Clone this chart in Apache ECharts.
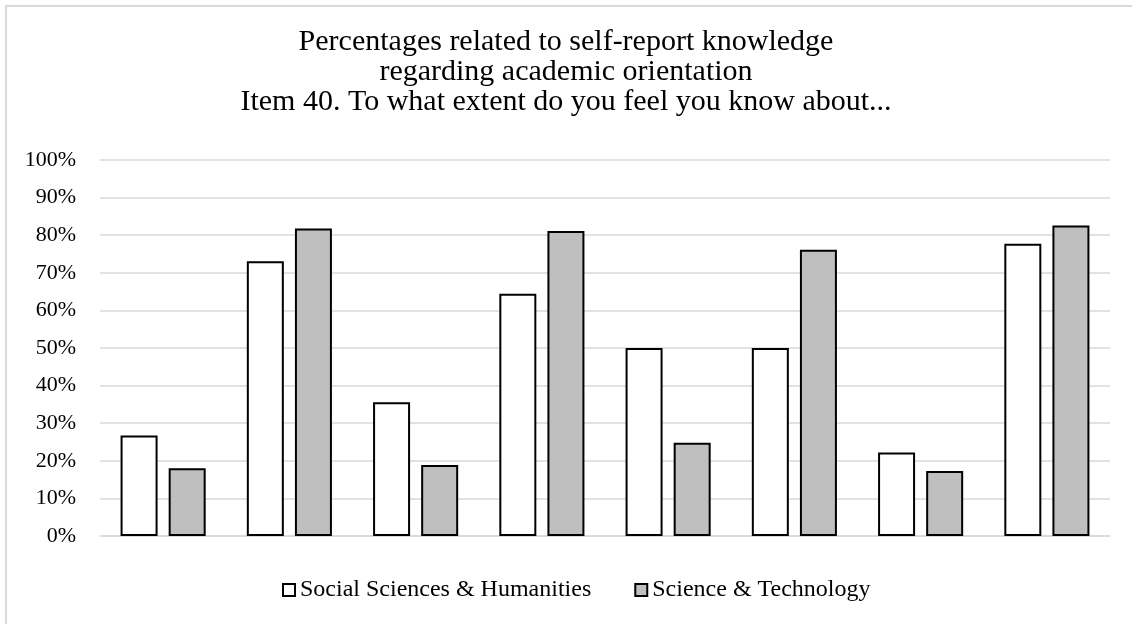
<!DOCTYPE html>
<html>
<head>
<meta charset="utf-8">
<script src="https://cdn.jsdelivr.net/npm/echarts@6/dist/echarts.min.js"></script>
<style>
  html, body { margin: 0; padding: 0; background: #fff; overflow: hidden; }
  #frame { position: absolute; left: 5px; top: 5px; width: 1200px; height: 700px;
           border: 2px solid #d9d9d9; box-sizing: border-box; }
  #chart { position: absolute; left: 0; top: 0; width: 1132px; height: 624px; }
</style>
</head>
<body>
<div id="frame"></div>
<div id="chart"></div>
<script>
// Item 40 sub-questions (no axis labels are shown)
const categories = ['1', '2', '3', '4', '5', '6', '7', '8'];
const seriesNames = ['Social Sciences & Humanities', 'Science & Technology'];
// Percent of students reporting knowledge, per group
const socialHumanities = [26.7, 73.1, 35.6, 64.4, 50.0, 50.0, 22.2, 77.7];
const scienceTechnology = [18.0, 81.8, 18.9, 81.1, 24.8, 76.1, 17.3, 82.6];
const titleLines = [
  'Percentages related to self-report knowledge',
  'regarding academic orientation',
  'Item 40. To what extent do you feel you know about...'
];

const serif = 'Liberation Serif, Times New Roman, serif';
const chart = echarts.init(document.getElementById('chart'));

chart.setOption({
  animation: false,
  backgroundColor: 'transparent',
  title: {
    text: titleLines.join('\n'),
    left: 'center',
    top: 22,
    textStyle: { fontFamily: serif, fontSize: 30, fontWeight: 'normal', color: '#000', lineHeight: 30 }
  },
  legend: {
    data: seriesNames,
    top: 573,
    left: 277,
    itemWidth: 12,
    itemHeight: 12,
    itemGap: 43,
    icon: 'rect',
    textStyle: { fontFamily: serif, fontSize: 24, color: '#000' }
  },
  grid: { left: 100, right: 22, top: 160, bottom: 88, containLabel: false },
  xAxis: {
    type: 'category',
    data: categories,
    axisLine: { lineStyle: { color: '#d9d9d9', width: 1.5 } },
    axisTick: { show: false },
    axisLabel: { show: false }
  },
  yAxis: {
    type: 'value',
    min: 0,
    max: 100,
    interval: 10,
    axisLine: { show: false },
    axisTick: { show: false },
    splitLine: { lineStyle: { color: '#d9d9d9', width: 1.5 } },
    axisLabel: {
      formatter: '{value}%',
      fontFamily: serif,
      fontSize: 22,
      color: '#000',
      margin: 24
    }
  },
  series: [
    {
      name: seriesNames[0],
      type: 'bar',
      data: socialHumanities,
      barWidth: 37,
      barGap: '30%',
      itemStyle: { color: '#ffffff', borderColor: '#000', borderWidth: 2 }
    },
    {
      name: seriesNames[1],
      type: 'bar',
      data: scienceTechnology,
      barWidth: 37,
      barGap: '30%',
      itemStyle: { color: '#bfbfbf', borderColor: '#000', borderWidth: 2 }
    }
  ]
});
</script>
</body>
</html>
